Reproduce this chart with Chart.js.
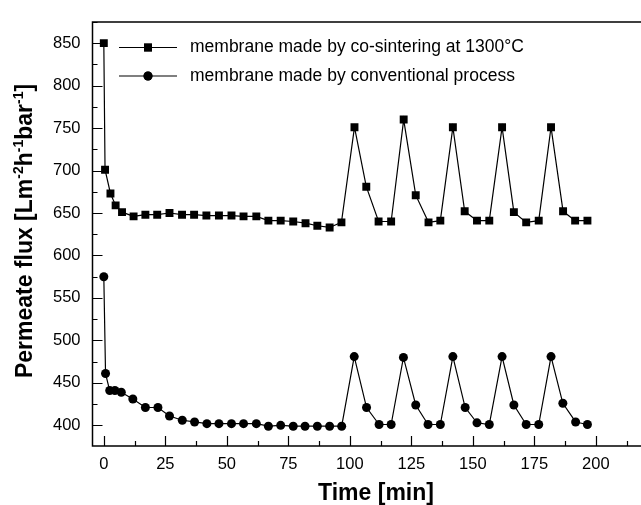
<!DOCTYPE html>
<html>
<head>
<meta charset="utf-8">
<script src="https://cdn.jsdelivr.net/npm/chart.js@4/dist/chart.umd.min.js"></script>
<style>
  body { margin: 0; background: #fff; }
  canvas { display: block; }
</style>
</head>
<body>
<canvas id="flux" width="641" height="505"></canvas>
<script>
// time [min] and permeate flux
const timeSintered = [0, 0.5, 2.7, 4.8, 7.4, 12.1, 16.9, 21.7, 26.7, 31.8, 36.7, 41.7, 46.8, 51.9, 56.8,
  62, 66.9, 71.9, 77, 82, 86.8, 91.8, 96.6, 101.9, 106.7, 111.7, 116.8, 121.9, 126.8, 132, 136.8,
  141.9, 146.7, 151.7, 156.7, 161.9, 166.7, 171.7, 176.8, 181.8, 186.7, 191.6, 196.6];
const fluxSintered = [850, 701, 673, 659, 651, 646, 648, 648, 650, 648, 648, 647, 647, 647, 646,
  646, 641, 641, 640, 638, 635, 633, 639, 751, 681, 640, 640, 760, 671, 639, 641,
  751, 652, 641, 641, 751, 651, 639, 641, 751, 652, 641, 641];

const timeConventional = [0, 0.7, 2.4, 4.5, 7.1, 11.8, 16.9, 22, 26.7, 31.9, 36.9, 41.9, 46.8, 51.9, 56.8,
  62, 66.9, 71.9, 77, 81.8, 86.8, 91.8, 96.7, 101.8, 106.8, 111.9, 116.8, 121.8, 126.8, 131.8, 136.8,
  141.9, 146.9, 151.7, 156.7, 161.9, 166.7, 171.7, 176.8, 181.8, 186.6, 191.8, 196.6];
const fluxConventional = [575, 461, 441, 441, 439, 431, 421, 421, 411, 406, 404, 402, 402, 402, 402,
  402, 399, 400, 399, 399, 399, 399, 399, 481, 421, 401, 401, 480, 424, 401, 401,
  481, 421, 403, 401, 481, 424, 401, 401, 481, 426, 404, 401];

const xTickValues = [0, 25, 50, 75, 100, 125, 150, 175, 200];
const yTickValues = [400, 450, 500, 550, 600, 650, 700, 750, 800, 850];

const seriesLabels = ["membrane made by co-sintering at 1300\u00b0C", "membrane made by conventional process"];
const xTitle = "Time [min]";
const yTitleParts = [["Permeate flux [Lm", false], ["-2", true], ["h", false], ["-1", true],
  ["bar", false], ["-1", true], ["]", false]];

const FONT = "'Liberation Sans', Arial, sans-serif";

const toPoints = (xs, ys) => xs.map((x, i) => ({ x: x, y: ys[i] }));

// frame, inward ticks, titles and legend drawn by hand
const decorations = {
  id: "decorations",
  beforeDatasetsDraw(chart) {
    const ctx = chart.ctx;
    const area = chart.chartArea;
    const xs = chart.scales.x;
    const ys = chart.scales.y;
    ctx.save();
    ctx.strokeStyle = "#000";
    ctx.lineWidth = 1.5;
    ctx.beginPath();
    ctx.moveTo(chart.width, area.top);
    ctx.lineTo(area.left, area.top);
    ctx.lineTo(area.left, area.bottom);
    ctx.lineTo(chart.width, area.bottom);
    ctx.stroke();

    ctx.lineWidth = 1.2;
    ctx.beginPath();
    for (let v = Math.ceil(ys.min / 25) * 25; v <= ys.max; v += 25) {
      const py = Math.round(ys.getPixelForValue(v)) + 0.5;
      const len = v % 50 === 0 ? 10 : 5;
      ctx.moveTo(area.left, py);
      ctx.lineTo(area.left + len, py);
    }
    for (let v = Math.ceil(xs.min / 12.5) * 12.5; v <= xs.max; v += 12.5) {
      const px = Math.round(xs.getPixelForValue(v)) + 0.5;
      const len = v % 25 === 0 ? 10 : 5;
      ctx.moveTo(px, area.bottom);
      ctx.lineTo(px, area.bottom - len);
    }
    ctx.stroke();
    ctx.restore();
  },
  afterDraw(chart) {
    const ctx = chart.ctx;
    ctx.save();
    ctx.fillStyle = "#000";

    // x title
    ctx.font = "bold 23px " + FONT;
    ctx.textAlign = "center";
    ctx.textBaseline = "middle";
    ctx.fillText(xTitle, 376, 494);

    // y title with superscripts
    ctx.translate(26, 231);
    ctx.rotate(-Math.PI / 2);
    const big = "bold 23px " + FONT;
    const small = "bold 14px " + FONT;
    let total = 0;
    yTitleParts.forEach(([t, sup]) => {
      ctx.font = sup ? small : big;
      total += ctx.measureText(t).width;
    });
    let cx = -total / 2;
    ctx.textAlign = "left";
    ctx.textBaseline = "middle";
    yTitleParts.forEach(([t, sup]) => {
      ctx.font = sup ? small : big;
      ctx.fillText(t, cx, sup ? -7 : 0);
      cx += ctx.measureText(t).width;
    });
    ctx.restore();

    // legend
    ctx.save();
    ctx.font = "17.5px " + FONT;
    ctx.textBaseline = "middle";
    ctx.fillStyle = "#000";
    ctx.strokeStyle = "#000";
    chart.data.datasets.forEach((ds, i) => {
      const y = 47.5 + i * 28.5;
      ctx.lineWidth = 1.2;
      ctx.beginPath();
      ctx.moveTo(119, y);
      ctx.lineTo(177, y);
      ctx.stroke();
      Chart.helpers.drawPoint(ctx, { pointStyle: ds.pointStyle, radius: ds.pointRadius, borderWidth: 0 }, 148, y);
      ctx.fill();
      ctx.fillText(ds.label, 190, y);
    });
    ctx.restore();
  },
};

new Chart(document.getElementById("flux"), {
  type: "line",
  data: {
    datasets: [
      {
        label: seriesLabels[0],
        data: toPoints(timeSintered, fluxSintered),
        borderColor: "#000",
        backgroundColor: "#000",
        borderWidth: 1.2,
        pointStyle: "rect",
        pointRadius: 5.6,
        pointBorderWidth: 0,
        tension: 0,
      },
      {
        label: seriesLabels[1],
        data: toPoints(timeConventional, fluxConventional),
        borderColor: "#000",
        backgroundColor: "#000",
        borderWidth: 1.2,
        pointStyle: "circle",
        pointRadius: 4.5,
        pointBorderWidth: 0,
        tension: 0,
      },
    ],
  },
  options: {
    responsive: false,
    animation: false,
    layout: { padding: { top: 15, right: 0, left: 0, bottom: 0 } },
    plugins: { legend: { display: false }, tooltip: { enabled: false } },
    scales: {
      x: {
        type: "linear",
        min: -4.6,
        max: 216.1,
        grid: { display: false, drawTicks: false },
        border: { display: false },
        ticks: { padding: 9, color: "#000", font: { family: FONT, size: 16.5 } },
        afterBuildTicks: (scale) => { scale.ticks = xTickValues.map((v) => ({ value: v })); },
        afterFit: (scale) => { scale.height = 59; },
      },
      y: {
        min: 375.7,
        max: 875,
        grid: { display: false, drawTicks: false },
        border: { display: false },
        ticks: { padding: 12, color: "#000", font: { family: FONT, size: 16.5 } },
        afterBuildTicks: (scale) => { scale.ticks = yTickValues.map((v) => ({ value: v })); },
        afterFit: (scale) => { scale.width = 92.5; },
      },
    },
  },
  plugins: [decorations],
});
</script>
</body>
</html>
